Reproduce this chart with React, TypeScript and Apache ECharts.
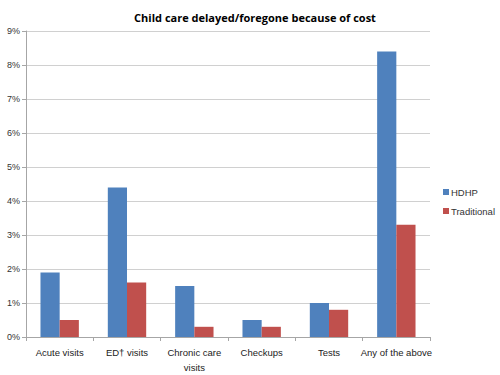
import React, { useEffect, useRef } from "react";
import * as echarts from "echarts";

const categories = ["Acute visits", "ED† visits", "Chronic care\nvisits", "Checkups", "Tests", "Any of the above"];
const hdhp = [1.9, 4.4, 1.5, 0.5, 1.0, 8.4];
const traditional = [0.5, 1.6, 0.3, 0.3, 0.8, 3.3];

export default function App() {
  const ref = useRef<HTMLDivElement>(null);
  useEffect(() => {
    const chart = echarts.init(ref.current!, null, { renderer: "svg" });
    chart.setOption({
      animation: false,
      backgroundColor: "#ffffff",
      textStyle: { fontFamily: "Liberation Sans, Arial, sans-serif" },
      title: {
        text: "Child care delayed/foregone because of cost",
        left: 250,
        textAlign: "center",
        top: 7,
        textStyle: { fontSize: 11, fontWeight: "bold", color: "#000", fontFamily: "Open Sans, sans-serif" },
      },
      legend: {
        orient: "vertical",
        left: 438,
        top: 182,
        itemWidth: 6,
        itemHeight: 6,
        itemGap: 9,
        icon: "rect",
        textStyle: { fontSize: 9.5, color: "#333", padding: [0, 0, 0, -3] },
        data: ["HDHP", "Traditional"],
      },
      grid: { left: 26, right: 70, top: 31, bottom: 34 },
      xAxis: {
        type: "category",
        data: categories,
        axisLine: { lineStyle: { color: "#a6a6a6" } },
        axisTick: { show: true, length: 4, lineStyle: { color: "#a6a6a6" } },
        axisLabel: { fontSize: 9.5, color: "#222", margin: 8, interval: 0, lineHeight: 15 },
      },
      yAxis: {
        type: "value",
        min: 0,
        max: 9,
        interval: 1,
        axisLine: { show: true, lineStyle: { color: "#a6a6a6" } },
        axisTick: { show: true, length: 4, lineStyle: { color: "#a6a6a6" } },
        axisLabel: { fontSize: 9, color: "#333", formatter: "{value}%", margin: 6 },
        splitLine: { lineStyle: { color: "#d0d0d0" } },
      },
      series: [
        { name: "HDHP", type: "bar", data: hdhp, itemStyle: { color: "#4F81BD" }, barGap: "0%", barCategoryGap: "43%" },
        { name: "Traditional", type: "bar", data: traditional, itemStyle: { color: "#C0504D" }, barGap: "0%", barCategoryGap: "43%" },
      ],
    });
    return () => chart.dispose();
  }, []);
  return <div ref={ref} style={{ width: 500, height: 375, position: "absolute", left: 0, top: 0 }} />;
}
